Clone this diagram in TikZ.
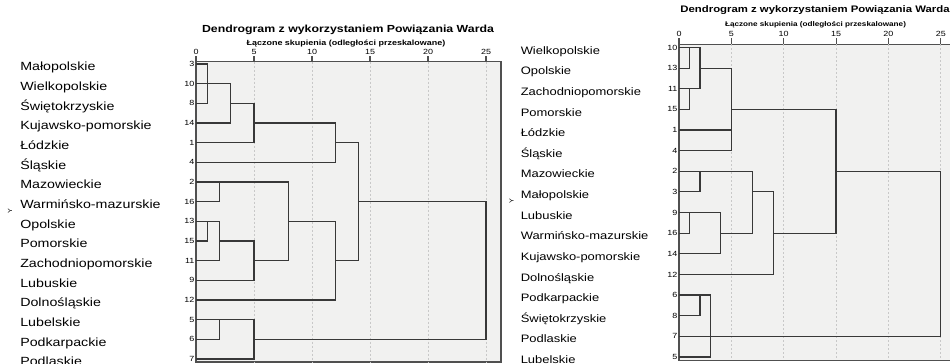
\documentclass[tikz,border=0pt]{standalone}
\usepackage{fontspec}
\setmainfont{Liberation Sans}[FakeStretch=1.2]

\definecolor{plotbg}{HTML}{F1F1F0}
\definecolor{linkcol}{HTML}{383838}
\definecolor{framecol}{HTML}{505050}
\definecolor{gridcol}{HTML}{C8C8C8}

\begin{document}
\begin{tikzpicture}[x=0.75pt,y=-0.75pt,
  link/.style={draw=linkcol, line width=0.85pt},
  plotframe/.style={draw=framecol, fill=plotbg, line width=0.8pt},
  gridline/.style={draw=gridcol, dash pattern=on 1.5pt off 1.5pt, line width=0.6pt},
  tickmark/.style={draw=framecol, line width=0.8pt},
  ticklbl/.style={font=\fontsize{5.6}{6}\selectfont, inner sep=0.5pt, anchor=south},
  rownum/.style={font=\fontsize{5.6}{6}\selectfont, anchor=east, inner sep=1pt},
  ylbl/.style={font=\fontsize{4.5}{5}\selectfont, rotate=90, inner sep=0pt}]

\useasboundingbox (0,0) rectangle (950,364);
\clip (0,0) rectangle (950,364);

% titles
\node[font=\bfseries\fontsize{7.7}{9}\selectfont] (ttlA) at (348,30) {Dendrogram z wykorzystaniem Powiązania Warda};
\node[font=\bfseries\fontsize{5.6}{6}\selectfont] (subA) at (346,43.5) {Łączone skupienia (odległości przeskalowane)};
\node[font=\bfseries\fontsize{7.1}{8}\selectfont] (ttlB) at (815,10) {Dendrogram z wykorzystaniem Powiązania Warda};
\node[font=\bfseries\fontsize{5.1}{6}\selectfont] (subB) at (815.5,25) {Łączone skupienia (odległości przeskalowane)};

\node[ylbl] (yA) at (10,211) {Y};
\node[ylbl] (yB) at (511.5,201.5) {Y};

% left dendrogram
\begin{scope}[xshift=147pt, yshift=-48pt, x=8.7pt, y=-14.7525pt]
\draw[plotframe] (0,-0.12) rectangle (26.29,15.15);
\foreach \d in {5,10,...,25}
  \draw[gridline] (\d,-0.12) -- (\d,15.15);
\foreach \d in {0,5,...,25} {
  \draw[tickmark] (\d,-0.12) -- (\d,-0.41) node[ticklbl] (tA\d) {\d};
}
\foreach \n [count=\r from 0] in {3,10,8,14,1,4,2,16,13,15,11,9,12,5,6,7}
  \node[rownum] (nA\r) at (0,\r) {\n};
\foreach \t [count=\r from 0] in {Małopolskie,Wielkopolskie,Świętokrzyskie,Kujawsko-pomorskie,Łódzkie,Śląskie,Mazowieckie,Warmińsko-mazurskie,Opolskie,Pomorskie,Zachodniopomorskie,Lubuskie,Dolnośląskie,Lubelskie,Podkarpackie,Podlaskie}
  \node[anchor=base west, inner sep=0pt, yshift=-5pt, font=\fontsize{8.9}{10}\selectfont] (lA\r) at (-15.17,\r) {\t};

\draw[link] (0,0) -| (1,2) -- (0,2);
\draw[link] (0,1) -| (3,3) -- (0,3);
\draw[link] (3,2) -| (5,4) -- (0,4);
\draw[link] (5,3) -| (12,5) -- (0,5);
\draw[link] (0,6) -| (2,7) -- (0,7);
\draw[link] (0,8) -| (1,9) -- (0,9);
\draw[link] (1,8) -| (2,10) -- (0,10);
\draw[link] (2,9) -| (5,11) -- (0,11);
\draw[link] (2,6) -| (8,10) -- (5,10);
\draw[link] (8,8) -| (12,12) -- (0,12);
\draw[link] (12,4) -| (14,10) -- (12,10);
\draw[link] (14,7) -| (25,14) -- (5,14);
\draw[link] (0,13) -| (2,14) -- (0,14);
\draw[link] (2,13) -| (5,15) -- (0,15);
\end{scope}

% right dendrogram
\begin{scope}[xshift=509.25pt, yshift=-35.625pt, x=7.8525pt, y=-15.4725pt]
\draw[plotframe] (0,-0.155) rectangle (26.5,15.15);
\foreach \d in {5,10,...,25}
  \draw[gridline] (\d,-0.155) -- (\d,15.15);
\foreach \d in {0,5,...,25} {
  \draw[tickmark] (\d,-0.155) -- (\d,-0.46) node[ticklbl] (tB\d) {\d};
}
\foreach \n [count=\r from 0] in {10,13,11,15,1,4,2,3,9,16,14,12,6,8,7,5}
  \node[rownum] (nB\r) at (0,\r) {\n};
\foreach \t [count=\r from 0] in {Wielkopolskie,Opolskie,Zachodniopomorskie,Pomorskie,Łódzkie,Śląskie,Mazowieckie,Małopolskie,Lubuskie,Warmińsko-mazurskie,Kujawsko-pomorskie,Dolnośląskie,Podkarpackie,Świętokrzyskie,Podlaskie,Lubelskie}
  \node[anchor=base west, inner sep=0pt, yshift=-5pt, font=\fontsize{8.1}{9}\selectfont] (lB\r) at (-15.14,\r) {\t};

\draw[link] (0,0) -| (1,1) -- (0,1);
\draw[link] (1,0) -| (2,2) -- (0,2);
\draw[link] (0,2) -| (1,3) -- (0,3);
\draw[link] (2,1) -| (5,5) -- (0,5);
\draw[link] (0,4) -- (5,4);
\draw[link] (5,3) -| (15,9) -- (9,9);
\draw[link] (15,6) -| (25,14) -- (0,14);
\draw[link] (0,6) -| (2,7) -- (0,7);
\draw[link] (0,8) -| (1,9) -- (0,9);
\draw[link] (1,8) -| (4,10) -- (0,10);
\draw[link] (2,6) -| (7,9) -- (4,9);
\draw[link] (7,7) -| (9,11) -- (0,11);
\draw[link] (0,12) -| (2,13) -- (0,13);
\draw[link] (2,12) -| (3,15) -- (0,15);
\end{scope}

\end{tikzpicture}
\end{document}
